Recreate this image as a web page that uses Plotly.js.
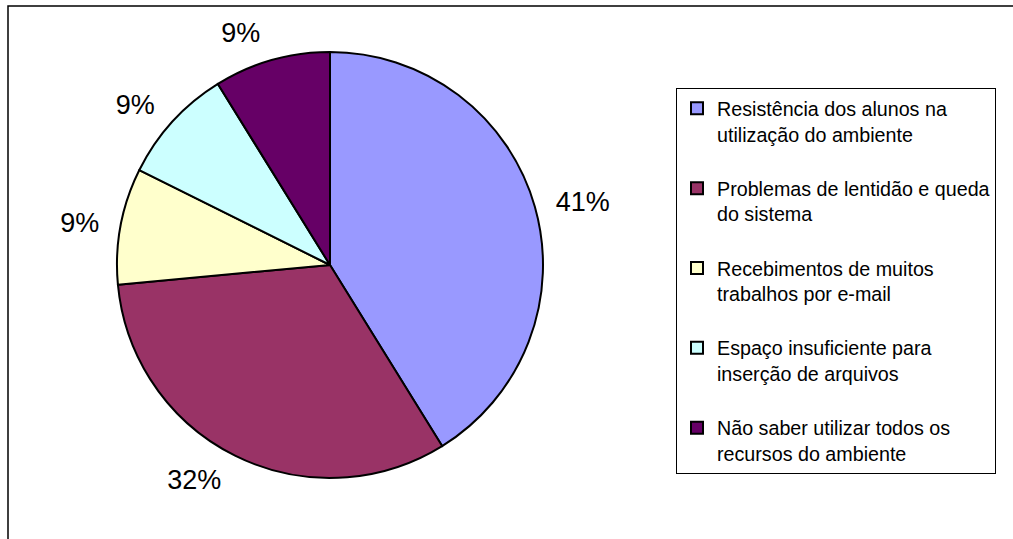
<!DOCTYPE html>
<html>
<head>
<meta charset="utf-8">
<script src="https://cdn.plot.ly/plotly-3.0.1.min.js"></script>
<style>
html,body{margin:0;padding:0;background:#fff;}
#chart{width:1013px;height:539px;}
</style>
</head>
<body>
<div id="chart"></div>
<script>
// Category labels (legend text) and their values
const categories = [
  "Resistência dos alunos na<br>utilização do ambiente",
  "Problemas de lentidão e queda<br>do sistema",
  "Recebimentos de muitos<br>trabalhos por e-mail",
  "Espaço insuficiente para<br>inserção de arquivos",
  "Não saber utilizar todos os<br>recursos do ambiente"
];
const values = [14, 11, 3, 3, 3];
const sliceColors = ["#9999FF", "#993366", "#FFFFCC", "#CCFFFF", "#660066"];

// add spacing line between legend entries (not after the last one)
const legendLabels = categories.map((c, i) => i < categories.length - 1 ? c + "<br> " : c);

const W = 1013, H = 539;
const cx = 330, cy = 265, r = 213;   // pie geometry in pixels
const labelR = r + 14;               // radius of the (invisible) label ring

const FONT = "Liberation Sans, Arial, sans-serif";

const pieTrace = {
  type: "pie",
  labels: legendLabels,
  values: values,
  sort: false,
  direction: "clockwise",
  rotation: 0,
  marker: { colors: sliceColors, line: { color: "#000000", width: 2 } },
  textinfo: "none",
  hoverinfo: "none",
  domain: { x: [(cx - r) / W, (cx + r) / W], y: [1 - (cy + r) / H, 1 - (cy - r) / H] }
};

// transparent ring carrying the percentage labels a bit further out
const labelTrace = {
  type: "pie",
  labels: legendLabels,
  values: values,
  sort: false,
  direction: "clockwise",
  rotation: 0,
  showlegend: false,
  marker: { colors: values.map(() => "rgba(0,0,0,0)"), line: { width: 0 } },
  textinfo: "percent",
  texttemplate: "%{percent:.0%}",
  textposition: "outside",
  outsidetextfont: { family: FONT, size: 27, color: "#000" },
  hoverinfo: "none",
  domain: { x: [(cx - labelR) / W, (cx + labelR) / W], y: [1 - (cy + labelR) / H, 1 - (cy - labelR) / H] }
};

const layout = {
  width: W,
  height: H,
  margin: { l: 0, r: 0, t: 0, b: 0 },
  paper_bgcolor: "#ffffff",
  font: { family: FONT, color: "#000" },
  showlegend: true,
  legend: {
    x: 676 / W, xanchor: "left",
    y: 1 - 88 / H, yanchor: "top",
    bordercolor: "#000000", borderwidth: 1,
    bgcolor: "#ffffff",
    valign: "top",
    font: { size: 19.7, color: "#000" }
  },
  shapes: [{
    type: "rect", xref: "paper", yref: "paper",
    x0: 8 / W, x1: 1.05, y0: -0.05, y1: 1 - 6 / H,
    line: { color: "#000000", width: 1.5 },
    fillcolor: "rgba(0,0,0,0)", layer: "below"
  }]
};

Plotly.newPlot("chart", [pieTrace, labelTrace], layout, { staticPlot: true, displayModeBar: false });
</script>
</body>
</html>
